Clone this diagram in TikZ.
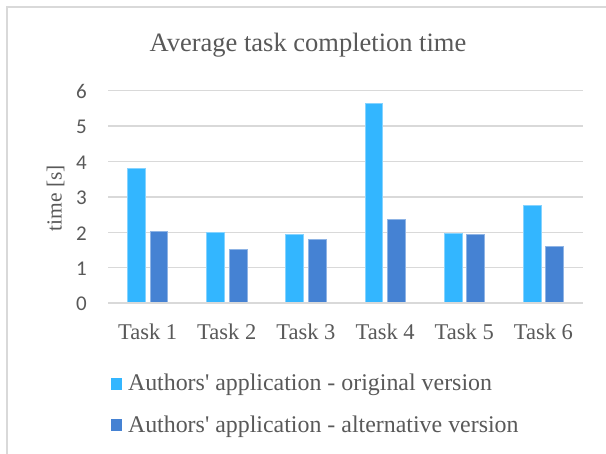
\documentclass[tikz,border=0pt]{standalone}
\usepackage{fontspec}
\setmainfont{Liberation Serif}
\newfontfamily\axisfont{Carlito}
\definecolor{txtgray}{HTML}{595959}
\definecolor{gridgray}{HTML}{D9D9D9}
\definecolor{origblue}{HTML}{33B6FF}
\definecolor{altblue}{HTML}{4582D3}
\tikzset{
  gridline/.style={gridgray, line width=1.4pt},
  framebox/.style={gridgray, line width=1.5pt},
  origbar/.style={fill=origblue, draw=origblue!60!white, line width=0.7pt},
  altbar/.style={fill=altblue, draw=altblue!60!white, line width=0.7pt},
  ticklabel/.style={font=\axisfont\fontsize{21}{21}\selectfont, text=txtgray, inner sep=0pt, anchor=east},
  catlabel/.style={font=\fontsize{22.5}{22.5}\selectfont, text=txtgray, inner sep=0pt, anchor=base},
  legendtext/.style={font=\fontsize{23.9}{23.9}\selectfont, text=txtgray, inner sep=0pt, anchor=base west},
}
\begin{document}
\begin{tikzpicture}[x=1pt, y=-1pt]
  \useasboundingbox (0,0) rectangle (606,454);
  \fill[white] (0,0) rectangle (606,454);
  % chart area frame
  \draw[framebox] (7,454) -- (7,7) -- (606,7);
  % title
  \node[font=\fontsize{26.5}{26.5}\selectfont, text=txtgray, inner sep=0pt, anchor=base] (title) at (308,51.7) {Average task completion time};
  % gridlines and value labels
  \foreach \v in {0,...,6} {
    \draw[gridline] (108,{303-35.38*\v}) -- (583,{303-35.38*\v});
    \node[ticklabel] (tick\v) at (87,{304-35.38*\v}) {\v};
  }
  % axis title
  \node[font=\fontsize{21.5}{21.5}\selectfont, text=txtgray, inner sep=0pt, rotate=90, anchor=base] (ytitle) at (61.7,198.3) {time [s]};
  % bars and category labels
  \foreach \i/\a/\b in {1/3.81/2.02, 2/2.01/1.51, 3/1.95/1.79, 4/5.63/2.36, 5/1.96/1.94, 6/2.75/1.60} {
    \pgfmathsetmacro\c{108+(\i-0.5)*79.17}
    \fill[origbar] ({\c-20.2},303) rectangle ({\c-2.4},{303-35.38*\a});
    \fill[altbar] ({\c+2.4},303) rectangle ({\c+20.2},{303-35.38*\b});
    \node[catlabel] (task\i) at (\c,339.3) {Task \i};
  }
  \draw[gridline] (108,303) -- (583,303);
  % legend
  \fill[origblue] (110.7,378.3) rectangle (122,389.7);
  \node[legendtext] (leg1) at (127.8,390.7) {Authors\textquotesingle\ application - original version};
  \fill[altblue] (110.7,419.3) rectangle (122,430.7);
  \node[legendtext] (leg2) at (127.8,432.7) {Authors\textquotesingle\ application - alternative version};
\end{tikzpicture}
\end{document}
